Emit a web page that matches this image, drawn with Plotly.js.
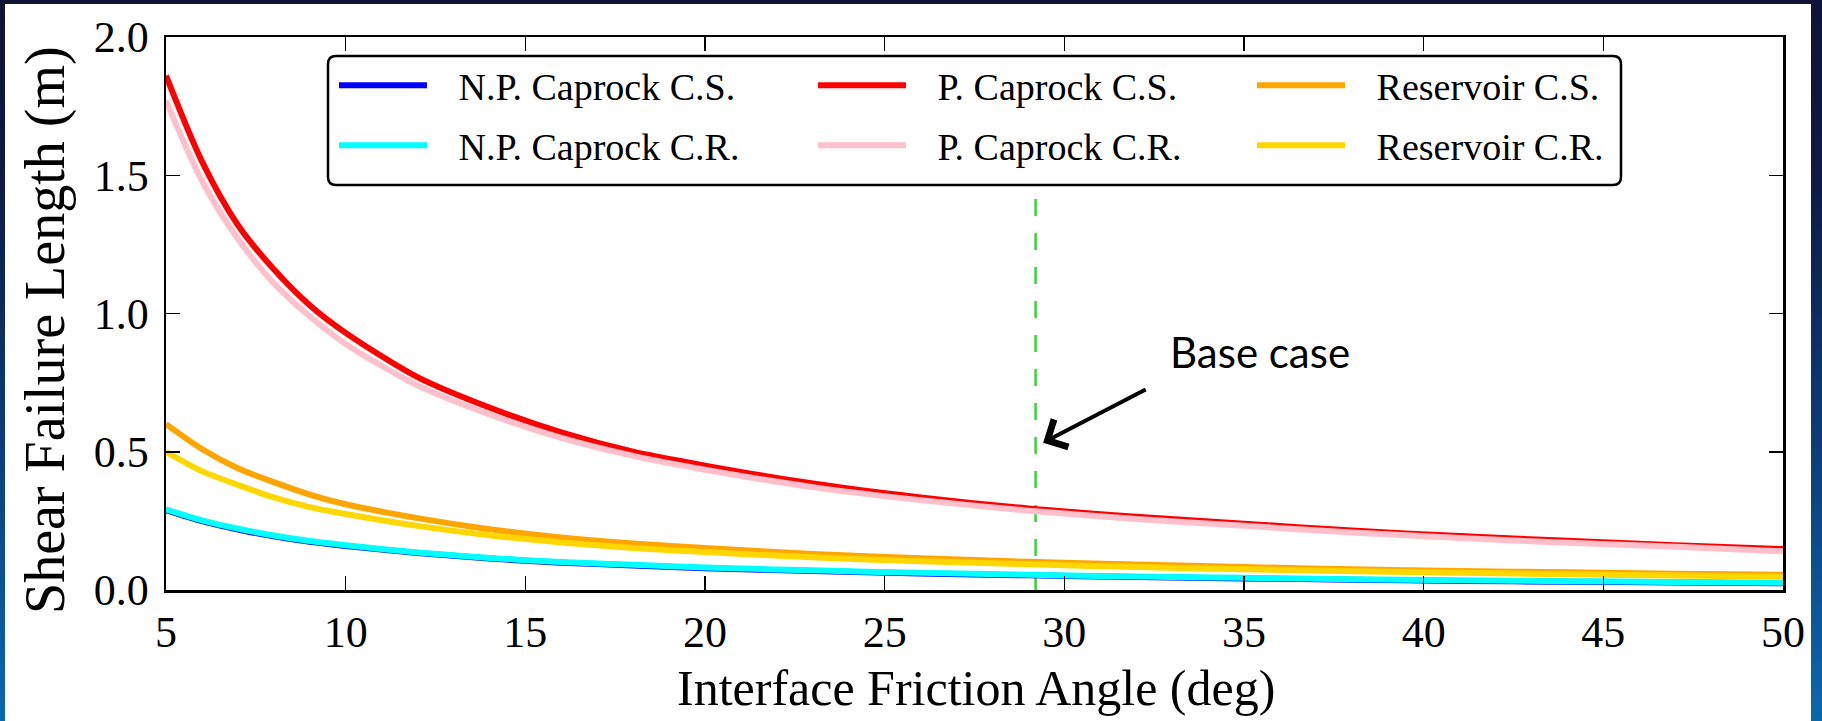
<!DOCTYPE html>
<html>
<head>
<meta charset="utf-8">
<script src="https://cdn.plot.ly/plotly-3.0.1.min.js"></script>
<style>
  html, body { margin: 0; padding: 0; width: 1822px; height: 721px; overflow: hidden;
    background: linear-gradient(to bottom, #0f1336 0%, #0f1a45 25%, #0c3b78 60%, #0a68ac 100%); }
  #chart { position: absolute; left: 5px; top: 4px; width: 1806px; height: 717px; }
</style>
</head>
<body>
<div id="chart"></div>
<script>
// Interface friction angle (deg)
const angle = [5, 6, 7, 8, 9, 10, 12, 14, 16, 18, 20, 23, 26, 29, 32, 35, 38, 41, 44, 47, 50];

// Shear failure length (m)
const npCaprockCS = [0.289, 0.249, 0.219, 0.194, 0.174, 0.159, 0.134, 0.114, 0.099, 0.089, 0.079, 0.069, 0.060, 0.053, 0.047, 0.042, 0.037, 0.033, 0.030, 0.027, 0.024];
const npCaprockCR = [0.292, 0.252, 0.222, 0.197, 0.177, 0.162, 0.136, 0.116, 0.101, 0.091, 0.081, 0.071, 0.062, 0.055, 0.049, 0.044, 0.039, 0.035, 0.032, 0.029, 0.026];
const pCaprockCS  = [1.86, 1.55, 1.32, 1.16, 1.03, 0.93, 0.77, 0.66, 0.57, 0.50, 0.45, 0.385, 0.335, 0.295, 0.265, 0.24, 0.215, 0.195, 0.178, 0.162, 0.148];
const pCaprockCR  = [1.77, 1.48, 1.27, 1.11, 0.99, 0.89, 0.74, 0.635, 0.55, 0.485, 0.435, 0.372, 0.325, 0.287, 0.257, 0.232, 0.208, 0.188, 0.171, 0.156, 0.140];
const reservoirCS = [0.60, 0.51, 0.44, 0.39, 0.345, 0.31, 0.26, 0.22, 0.19, 0.168, 0.152, 0.13, 0.115, 0.102, 0.092, 0.083, 0.075, 0.069, 0.064, 0.059, 0.055];
const reservoirCR = [0.50, 0.43, 0.38, 0.335, 0.30, 0.275, 0.232, 0.198, 0.172, 0.152, 0.137, 0.118, 0.104, 0.093, 0.083, 0.075, 0.068, 0.062, 0.057, 0.052, 0.048];

const seriesNames = ["N.P. Caprock C.S.", "N.P. Caprock C.R.", "P. Caprock C.S.", "P. Caprock C.R.", "Reservoir C.S.", "Reservoir C.R."];

// Base case friction angle (deg)
const baseCaseAngle = [29.2, 29.2];
const baseCaseRange = [0, 1.5];

const xTicks = [5, 10, 15, 20, 25, 30, 35, 40, 45, 50];
const yTicks = [0, 0.5, 1.0, 1.5, 2.0];

const xTitle = "Interface Friction Angle (deg)";
const yTitle = "Shear Failure Length (m)";

const serif = "Liberation Serif, Times New Roman, serif";
const LW = 6;
const PAD = "\u00a0\u00a0\u2009";

function curve(y, name, color, legend) {
  return { x: angle, y: y, name: PAD + name, type: "scatter", mode: "lines",
    line: { color: color, width: LW, shape: "spline", smoothing: 0.8 },
    legend: legend, hoverinfo: "skip" };
}

const traces = [
  { x: baseCaseAngle, y: baseCaseRange, type: "scatter", mode: "lines", showlegend: false,
    line: { color: "#33d633", width: 2.5, dash: "17px,17px" }, hoverinfo: "skip" },
  curve(npCaprockCS, seriesNames[0], "#0000ff", "legend"),
  curve(npCaprockCR, seriesNames[1], "#00ffff", "legend2"),
  curve(pCaprockCS, seriesNames[2], "#ff0000", "legend3"),
  curve(pCaprockCR, seriesNames[3], "#ffc0cb", "legend4"),
  curve(reservoirCS, seriesNames[4], "#ffa500", "legend5"),
  curve(reservoirCR, seriesNames[5], "#ffd700", "legend6")
];

// Layout geometry (div pixels)
const W = 1806, H = 717;
const M = { l: 161, r: 28, t: 33, b: 131 };
const PW = W - M.l - M.r, PH = H - M.t - M.b;
const px = v => (v - M.l) / PW;
const py = v => 1 - (v - M.t) / PH;

// rounded legend box
const bx0 = px(323), bx1 = px(1616), byt = py(52), byb = py(181);
const rx = 8 / PW, ry = 8 / PH;
const boxPath = `M ${bx0 + rx},${byt} L ${bx1 - rx},${byt} Q ${bx1},${byt} ${bx1},${byt - ry} ` +
  `L ${bx1},${byb + ry} Q ${bx1},${byb} ${bx1 - rx},${byb} L ${bx0 + rx},${byb} ` +
  `Q ${bx0},${byb} ${bx0},${byb + ry} L ${bx0},${byt - ry} Q ${bx0},${byt} ${bx0 + rx},${byt} Z`;

function legendAt(xpix, ypix) {
  return { x: px(xpix), y: py(ypix), xanchor: "left", yanchor: "top", orientation: "v",
    bgcolor: "rgba(0,0,0,0)", borderwidth: 0, itemwidth: 88, tracegroupgap: 0,
    font: { family: serif, size: 38, color: "#000" } };
}

const axisCommon = {
  showline: true, linecolor: "#000", linewidth: 2.5, mirror: "allticks",
  ticks: "inside", ticklen: 14, tickwidth: 1.5, tickcolor: "#000",
  showgrid: false, zeroline: false,
  tickfont: { family: serif, size: 44, color: "#000" }
};

const layout = {
  width: W, height: H,
  margin: M,
  paper_bgcolor: "#ffffff", plot_bgcolor: "#ffffff",
  showlegend: true,
  legend: legendAt(329, 50),
  legend2: legendAt(329, 110),
  legend3: legendAt(808, 50),
  legend4: legendAt(808, 110),
  legend5: legendAt(1247, 50),
  legend6: legendAt(1247, 110),
  xaxis: Object.assign({}, axisCommon, {
    range: [5, 50], tickvals: xTicks, ticktext: xTicks.map(String), ticklabelstandoff: 2
  }),
  yaxis: Object.assign({}, axisCommon, {
    range: [0, 2], tickvals: yTicks, ticktext: yTicks.map(v => v.toFixed(1)), ticklabelstandoff: 6
  }),
  shapes: [
    { type: "path", xref: "paper", yref: "paper", path: boxPath, layer: "above",
      fillcolor: "#ffffff", line: { color: "#000", width: 2.5 } }
  ],
  annotations: [
    { x: px(971), y: py(684), xref: "paper", yref: "paper", text: xTitle, showarrow: false,
      xanchor: "center", yanchor: "middle",
      font: { family: serif, size: 50, color: "#000" } },
    { x: px(40), y: py(326), xref: "paper", yref: "paper", text: yTitle, showarrow: false,
      xanchor: "center", yanchor: "middle", textangle: -90,
      font: { family: serif, size: 56, color: "#000" } },
    { x: 35.45, y: 0.86, xref: "x", yref: "y", text: "Base case", showarrow: false,
      font: { family: "Lato, Open Sans, sans-serif", size: 42, color: "#000" } },
    { x: 29.41, y: 0.533, xref: "x", yref: "y", text: "", showarrow: true,
      ax: 104, ay: -54, arrowcolor: "#000", arrowwidth: 4, arrowhead: 4, arrowsize: 1.5 }
  ]
};

Plotly.newPlot("chart", traces, layout, { displayModeBar: false, staticPlot: true });
</script>
</body>
</html>
